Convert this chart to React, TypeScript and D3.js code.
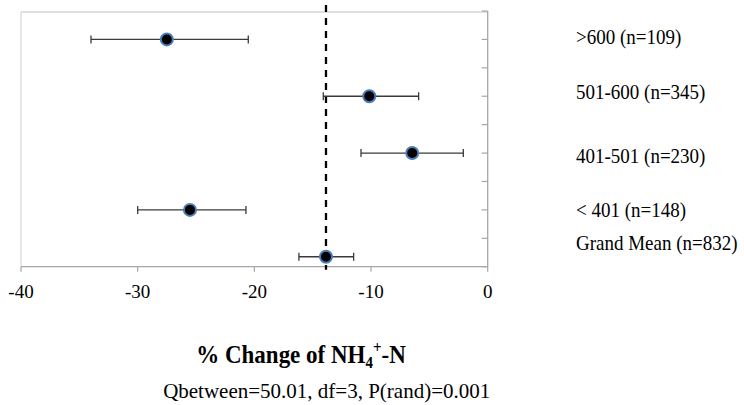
import React from "react";
import * as d3 from "d3";

const groups = [">600 (n=109)", "501-600 (n=345)", "401-501 (n=230)", "< 401 (n=148)", "Grand Mean (n=832)"];
const means = [-27.5, -10.15, -6.47, -25.52, -13.86];
const lower = [-34.0, -14.09, -10.86, -30.0, -16.18];
const upper = [-20.52, -5.92, -2.09, -20.72, -11.49];
const rowPos = [8, 6, 4, 2, 0.35];
const labelPos = [8.12, 6.16, 3.93, 2.03, 0.84];
const xTicks = [-40, -30, -20, -10, 0];
const yTicks = [0, 1, 2, 3, 4, 5, 6, 7, 8, 9];
const grandMean = -13.86;

export default function App() {
  const W = 744, H = 405;
  const x = d3.scaleLinear().domain([-40, 0]).range([21, 487.7]);
  const y = d3.scaleLinear().domain([0, 9]).range([266.7, 11]);
  const serif = { fontFamily: "Liberation Serif, Times New Roman, DejaVu Serif, serif" };
  const axisCol = "#a6a6a6";
  const barCol = "#3a3a3a";
  return (
    <svg width={W} height={H} style={{ position: "absolute", left: 0, top: 0, background: "#fff" }}>
      <line x1={x(-40)} x2={x(0)} y1={y(9) + 1} y2={y(9) + 1} stroke="#c0c0c0" strokeWidth={1} />
      <line x1={x(-40)} x2={x(-40)} y1={y(9) + 1} y2={y(0)} stroke="#d0d0d0" strokeWidth={1} />
      <line x1={x(0)} x2={x(0)} y1={y(9)} y2={y(0)} stroke={axisCol} strokeWidth={1.3} />
      {yTicks.map((t) => (
        <line key={t} x1={x(0) - 6} x2={x(0)} y1={y(t)} y2={y(t)} stroke={axisCol} strokeWidth={1.2} />
      ))}
      <line x1={x(-40)} x2={x(0)} y1={y(0)} y2={y(0)} stroke={axisCol} strokeWidth={1.3} />
      {xTicks.map((t) => (
        <g key={t}>
          <line x1={x(t)} x2={x(t)} y1={y(0)} y2={y(0) + 5} stroke={axisCol} strokeWidth={1.2} />
          <text x={x(t)} y={y(0) + 31} textAnchor="middle" style={serif} fontSize={19} fill="#000">
            {t}
          </text>
        </g>
      ))}
      <line x1={x(grandMean)} x2={x(grandMean)} y1={5} y2={y(0) + 3} stroke="#000" strokeWidth={2.3} strokeDasharray="7,6" />
      {groups.map((g, i) => (
        <g key={g}>
          <line x1={x(lower[i])} x2={x(upper[i])} y1={y(rowPos[i])} y2={y(rowPos[i])} stroke={barCol} strokeWidth={1.3} />
          <line x1={x(lower[i])} x2={x(lower[i])} y1={y(rowPos[i]) - 4} y2={y(rowPos[i]) + 4} stroke={barCol} strokeWidth={1.3} />
          <line x1={x(upper[i])} x2={x(upper[i])} y1={y(rowPos[i]) - 4} y2={y(rowPos[i]) + 4} stroke={barCol} strokeWidth={1.3} />
          <circle cx={x(means[i])} cy={y(rowPos[i])} r={6} fill="#000" stroke="#4a7ebb" strokeWidth={2} />
        </g>
      ))}
      {groups.map((g, i) => (
        <g key={g} transform={`translate(576,${y(labelPos[i])}) scale(1,1.15)`}>
          <text x={0} y={0} dy="0.35em" style={serif} fontSize={19} fill="#000">
            {g}
          </text>
        </g>
      ))}
      <g transform="translate(301,363) scale(1,1.08)">
        <text x={0} y={0} textAnchor="middle" style={serif} fontSize={23} fontWeight="bold" fill="#000">
          % Change of NH<tspan fontSize={15} dy={5}>4</tspan>
          <tspan fontSize={15} dy={-14}>+</tspan>
          <tspan dy={9}>-N</tspan>
        </text>
      </g>
      <text x={326.7} y={398} textAnchor="middle" style={serif} fontSize={21} fill="#000">
        Qbetween=50.01, df=3, P(rand)=0.001
      </text>
    </svg>
  );
}
